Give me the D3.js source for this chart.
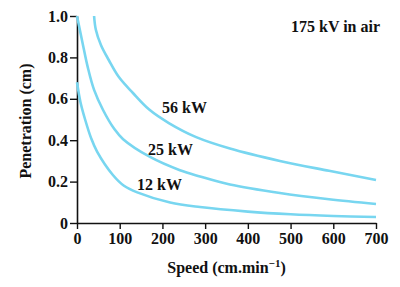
<!DOCTYPE html>
<html>
<head>
<meta charset="utf-8">
<script src="https://cdn.jsdelivr.net/npm/d3@7"></script>
<style>
  body { margin: 0; background: #fff; }
  text { font-family: "Liberation Serif", "DejaVu Serif", serif; font-weight: bold; fill: #111; }
</style>
</head>
<body>
<div id="chart"></div>
<script>
/* Penetration vs speed, 175 kV in air */

const width = 400, height = 287,
    margin = ({ top: 16, right: 24, bottom: 64, left: 77 });

// curve data
const speed56 = [40, 44, 56, 75, 98, 131, 169, 215, 279, 358, 475, 590, 700];
const pen56   = [1.0, 0.935, 0.86, 0.785, 0.705, 0.628, 0.548, 0.483, 0.415, 0.36, 0.30, 0.252, 0.208];

const speed25 = [0, 13, 25, 40, 61, 87, 108, 171, 241, 288, 358, 475, 590, 700];
const pen25   = [1.0, 0.87, 0.754, 0.643, 0.546, 0.455, 0.405, 0.319, 0.255, 0.225, 0.186, 0.145, 0.115, 0.092];

const speed12 = [0, 8, 19, 33, 47, 84, 110, 141, 218, 288, 400, 500, 600, 700];
const pen12   = [0.68, 0.585, 0.50, 0.41, 0.345, 0.232, 0.18, 0.148, 0.099, 0.077, 0.055, 0.042, 0.034, 0.029];

const xTicks = [0, 100, 200, 300, 400, 500, 600, 700];
const yTicks = [0, 0.2, 0.4, 0.6, 0.8, 1.0];

const svg = d3.select("#chart")
    .append("svg")
    .attr("width", width)
    .attr("height", height);

let x = d3.scaleLinear()
    .domain([0, 700])
    .range([margin.left, 376]);

let y = d3.scaleLinear()
    .domain([0, 1])
    .range([223, margin.top]);

/* axes */
const xAxis = svg.append("g")
    .attr("transform", `translate(0,${y(0)})`)
    .call(d3.axisBottom(x).tickValues(xTicks).tickSize(6).tickSizeOuter(0).tickPadding(4));

const yAxis = svg.append("g")
    .attr("transform", `translate(${x(0)},0)`)
    .call(d3.axisLeft(y).tickValues(yTicks).tickSize(7).tickSizeOuter(0).tickPadding(2)
      .tickFormat(d => d === 0 ? "0" : d.toFixed(1)));

for (let ax of [xAxis, yAxis]) {
    ax.select(".domain").attr("stroke", "#111").attr("stroke-width", 1.6);
    ax.selectAll(".tick line").attr("stroke", "#111").attr("stroke-width", 1.4);
    ax.selectAll(".tick text")
      .attr("font-family", "Liberation Serif")
      .attr("font-weight", "bold")
      .attr("font-size", 16)
      .attr("fill", "#111");
}

/* curves */
let line = d3.line()
    .x(d => x(d[0]))
    .y(d => y(d[1]))
    .curve(d3.curveCatmullRom.alpha(0.5));

const series = [
    { speed: speed56, pen: pen56 },
    { speed: speed25, pen: pen25 },
    { speed: speed12, pen: pen12 }
];

for (let s of series) {
    svg.append("path")
        .datum(d3.zip(s.speed, s.pen))
        .attr("d", line)
        .attr("fill", "none")
        .attr("stroke", "#78d6f0")
        .attr("stroke-width", 2.6);
}

/* labels */
svg.append("text")
    .attr("x", 162).attr("y", 113)
    .attr("font-size", 16)
    .text("56 kW");

svg.append("text")
    .attr("x", 148).attr("y", 155)
    .attr("font-size", 16)
    .text("25 kW");

svg.append("text")
    .attr("x", 137).attr("y", 190)
    .attr("font-size", 16)
    .text("12 kW");

svg.append("text")
    .attr("x", 291).attr("y", 32)
    .attr("font-size", 16)
    .text("175 kV in air");

const xl = svg.append("text")
    .attr("text-anchor", "middle")
    .attr("x", (x(0) + x(700)) / 2)
    .attr("y", 273)
    .attr("font-size", 16)
    .text("Speed (cm.min");
xl.append("tspan").attr("font-size", 11).attr("dy", -6).text("\u22121");
xl.append("tspan").attr("dy", 6).text(")");

svg.append("text")
    .attr("text-anchor", "middle")
    .attr("transform", "rotate(-90)")
    .attr("x", -121)
    .attr("y", 31)
    .attr("font-size", 16)
    .text("Penetration (cm)");
</script>
</body>
</html>
